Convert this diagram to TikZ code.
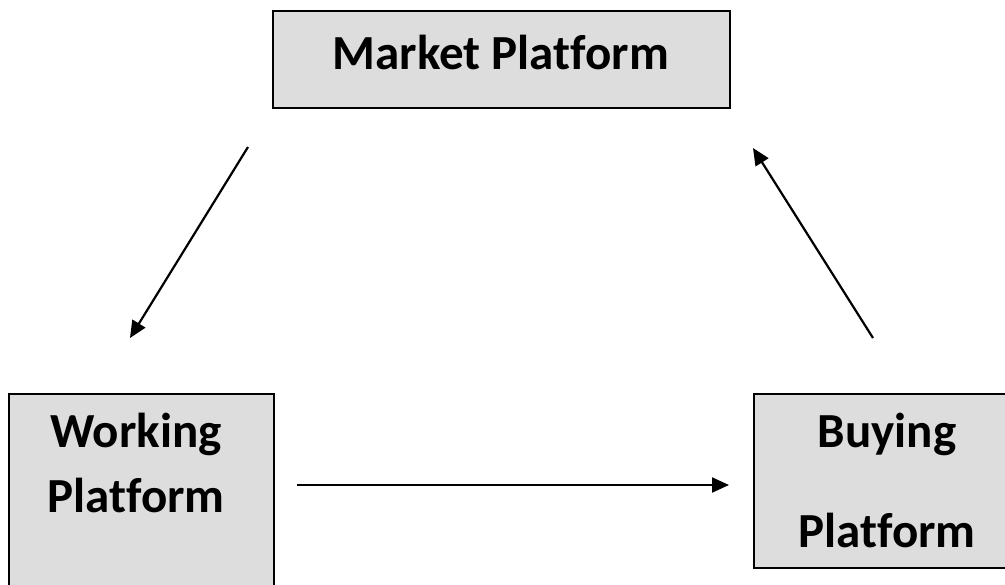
\documentclass[tikz,border=0pt]{standalone}
\usepackage{fontspec}
\setmainfont{Carlito}[Ligatures={NoCommon,NoRare,NoContextual}]
\usetikzlibrary{arrows.meta}
\definecolor{boxfill}{RGB}{221,221,221}
\begin{document}
\begin{tikzpicture}[x=1bp,y=-1bp,
  platform/.style={draw=black, line width=2.4bp, fill=boxfill, inner sep=0pt, anchor=north west},
  label/.style={anchor=base, inner sep=0pt, font=\bfseries\fontsize{49bp}{58bp}\selectfont},
  flow/.style={line width=2.2bp, -{Triangle[length=17bp,width=15bp]}}]
  \clip (0,0) rectangle (1005,585);
  \fill[white] (0,0) rectangle (1005,585);

  % platform boxes
  \node[platform, minimum width=457bp, minimum height=97bp] (market) at (272,10) {};
  \node[platform, minimum width=265bp, minimum height=230bp] (working) at (8,393) {};
  \node[platform, minimum width=265bp, minimum height=174bp] (buying) at (753,393) {};

  % box texts
  \node[label] (tmarket) at (501,70) {Market Platform};
  \node[label] (twork1) at (136,447) {Working};
  \node[label] (twork2) at (136,512) {Platform};
  \node[label] (tbuy1) at (887,447) {Buying};
  \node[label] (tbuy2) at (887,547) {Platform};

  % arrow end points
  \coordinate (a1s) at (248,147);
  \coordinate (a1e) at (130,338);
  \coordinate (a2s) at (297,485);
  \coordinate (a2e) at (729,485);
  \coordinate (a3s) at (873,338);
  \coordinate (a3e) at (753,148);

  \draw[flow] (a1s) -- (a1e);
  \draw[flow] (a2s) -- (a2e);
  \draw[flow] (a3s) -- (a3e);
\end{tikzpicture}
\end{document}
